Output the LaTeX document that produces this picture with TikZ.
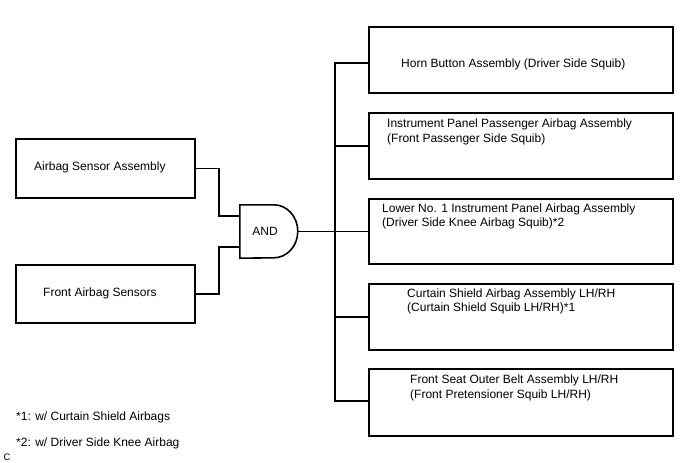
\documentclass[tikz,border=0pt]{standalone}
\usepackage{fontspec}
\setmainfont{Liberation Sans}
\begin{document}
\begin{tikzpicture}[x=1pt,y=-1pt,
  box/.style={draw=black, line width=1.8pt, inner sep=0pt, minimum width=#1},
  box/.default=304pt,
  wire/.style={draw=black, line width=1.35pt},
  gate/.style={draw=black, line width=1.6pt},
  txt/.style={anchor=north west, inner sep=0pt, align=left, font=\fontsize{12}{14.5}\selectfont},
]
\useasboundingbox (0,0) rectangle (688,463);

% left boxes
\node[box=179pt, minimum height=59pt] (s1) at (105.5,168.5) {};
\node[box=179pt, minimum height=58pt] (s2) at (105.5,294) {};
\node[txt] (t1) at (34,161.6) {Airbag Sensor Assembly};
\node[txt] (t2) at (43,287.6) {Front Airbag Sensors};

% AND gate
\node[inner sep=0pt, minimum width=58pt, minimum height=53pt] (and) at (269,231.5) {};
\draw[gate] (and.north west) -- ++(34,0) arc[start angle=90, end angle=-90, x radius=24pt, y radius=26.5pt] -- (and.south west) -- cycle;
\node[anchor=center, inner sep=0pt, font=\fontsize{12}{14.5}\selectfont] (andt) at (265,231) {AND};

\coordinate (in1) at (240,216);
\coordinate (in2) at (240,247);
\coordinate (j1) at (219,216);
\coordinate (j2) at (219,247);
\draw[wire] (s1.east) -| (j1) -- (in1);
\draw[wire] (s2.east) -| (j2) -- (in2);

% right boxes
\node[box, minimum height=66pt] (r1) at (521,60) {};
\node[box, minimum height=66pt] (r2) at (521,146) {};
\node[box, minimum height=65pt] (r3) at (521,231.5) {};
\node[box, minimum height=66pt] (r4) at (521,317) {};
\node[box, minimum height=67pt] (r5) at (521,402.5) {};

\node[txt] (u1) at (401,58.6) {Horn Button Assembly (Driver Side Squib)};
\node[txt] (u2) at (387,118.8) {Instrument Panel Passenger Airbag Assembly\\(Front Passenger Side Squib)};
\node[txt] (u3) at (382,203.6) {Lower No. 1 Instrument Panel Airbag Assembly\\(Driver Side Knee Airbag Squib)*2};
\node[txt] (u4) at (407,288.6) {Curtain Shield Airbag Assembly LH/RH\\(Curtain Shield Squib LH/RH)*1};
\node[txt] (u5) at (410,374.6) {Front Seat Outer Belt Assembly LH/RH\\(Front Pretensioner Squib LH/RH)};

% bus
\coordinate (bus) at (335,231.5);
\draw[wire] (and.east) -- (bus);
\draw[wire] (bus) |- ([yshift=-3pt]r1.west);
\draw[wire] (bus) |- (r2.west);
\draw[wire] (bus) |- (r3.west);
\draw[wire] (bus) |- (r4.west);
\draw[wire] (bus) |- ([yshift=1.5pt]r5.west);

% footnotes
\node[txt] (f1) at (16,411.2) {*1: w/ Curtain Shield Airbags};
\node[txt] (f2) at (16,437.4) {*2: w/ Driver Side Knee Airbag};
\node[anchor=west, inner sep=0pt, font=\fontsize{9.5}{11}\selectfont] (c) at (3.5,457) {C};
\end{tikzpicture}
\end{document}
